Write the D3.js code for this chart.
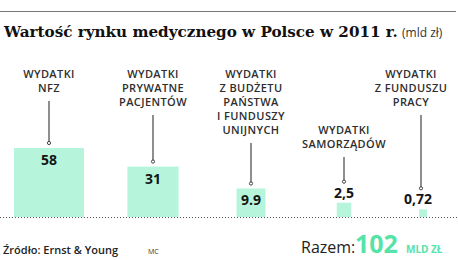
<!DOCTYPE html>
<html>
<head>
<meta charset="utf-8">
<script src="https://cdn.jsdelivr.net/npm/d3@7"></script>
<style>
  body { margin: 0; background: #fff; }
  svg { display: block; }
</style>
</head>
<body>
<svg id="svg"></svg>
<script>
// data
const categories = ["WYDATKI\nNFZ", "WYDATKI\nPRYWATNE\nPACJENTÓW", "WYDATKI\nZ BUDŻETU\nPAŃSTWA\nI FUNDUSZY\nUNIJNYCH", "WYDATKI\nSAMORZĄDÓW", "WYDATKI\nZ FUNDUSZU\nPRACY"]
const values = [58, 31, 9.9, 2.5, 0.72]
const valueLabels = ["58", "31", "9.9", "2,5", "0,72"]
const total = "102"

const width = 458, height = 260
const baseY = 217
const mint = "#b6f5dc"
const green = "#55e3a9"

const svg = d3.select("#svg")
    .attr("width", width)
    .attr("height", height)

// scales
const xCenter = d3.scaleOrdinal()
    .domain(categories)
    .range([49, 153, 251, 344, 423])

const labelCenter = d3.scaleOrdinal()
    .domain(categories)
    .range([49, 153, 251, 344, 411])

const labelTop = d3.scaleOrdinal()
    .domain(categories)
    .range([78, 78, 78, 134, 78])

// bars are sized by area
const wScale = d3.scaleSqrt().domain([0, 58]).range([0, 70])
const hScale = d3.scaleSqrt().domain([0, 58]).range([0, 69])

// header
svg.append("line")
    .attr("x1", 0).attr("x2", 456)
    .attr("y1", 11.5).attr("y2", 11.5)
    .attr("stroke", "#777")
    .attr("stroke-width", 1)

const title = svg.append("text")
    .attr("x", 4).attr("y", 37)
    .style("font-family", "'DejaVu Serif', serif")
    .style("font-weight", "bold")
    .style("font-size", "16px")
    .attr("fill", "#111")
    .text("Wartość rynku medycznego w Polsce w 2011 r.")
const tw = title.node().getComputedTextLength()
title.style("font-size", (16 * 394 / tw) + "px")

svg.append("text")
    .attr("x", 402).attr("y", 37)
    .style("font-family", "'Open Sans', sans-serif")
    .style("font-size", "12px")
    .attr("fill", "#333")
    .text("(mld zł)")

// baseline
svg.append("line")
    .attr("x1", 0).attr("x2", width)
    .attr("y1", baseY + 0.5).attr("y2", baseY + 0.5)
    .attr("stroke", "#555")
    .attr("stroke-width", 1)
    .attr("stroke-dasharray", "1,2")

const items = categories.map((c, i) => ({ c, v: values[i], label: valueLabels[i] }))

// bars
svg.selectAll("rect.bar")
    .data(items)
    .join("rect")
    .attr("class", "bar")
    .attr("x", d => xCenter(d.c) - wScale(d.v) / 2)
    .attr("y", d => baseY - hScale(d.v))
    .attr("width", d => wScale(d.v))
    .attr("height", d => hScale(d.v))
    .attr("fill", mint)

// category labels, leader lines, values
items.forEach(d => {
    const lines = d.c.split("\n")
    const t = svg.append("text")
        .attr("text-anchor", "middle")
        .style("font-family", "'Open Sans', sans-serif")
        .style("font-weight", "600")
        .style("font-size", "11px")
        .style("letter-spacing", "0.4px")
        .attr("fill", "#2e2e2e")
    lines.forEach((l, j) => {
        t.append("tspan")
            .attr("x", labelCenter(d.c))
            .attr("y", labelTop(d.c) + j * 14)
            .text(l)
    })
    const inside = hScale(d.v) > 25
    const top = baseY - hScale(d.v)
    const valY = inside ? top + 17 : top - 5
    const lineEnd = inside ? top - 5 : valY - 16
    const lineStart = labelTop(d.c) + (lines.length - 1) * 14 + 9
    const lx = xCenter(d.c) - (d.v < 1 ? 2 : 0)

    svg.append("line")
        .attr("x1", lx).attr("x2", lx)
        .attr("y1", lineStart).attr("y2", lineEnd)
        .attr("stroke", "#444")
        .attr("stroke-width", 1.2)
    svg.append("circle")
        .attr("cx", lx).attr("cy", lineEnd)
        .attr("r", 1.6)
        .attr("fill", "#fff")
        .attr("stroke", "#444")
        .attr("stroke-width", 1)

    svg.append("text")
        .attr("x", xCenter(d.c) - (d.v < 1 ? 5 : 0))
        .attr("y", valY)
        .attr("text-anchor", "middle")
        .style("font-family", "'Open Sans', sans-serif")
        .style("font-weight", "bold")
        .style("font-size", "14px")
        .attr("fill", "#151515")
        .text(d.label)
})

// footer
svg.append("text")
    .attr("x", 3).attr("y", 254)
    .style("font-family", "'Open Sans', sans-serif")
    .style("font-weight", "600")
    .style("font-size", "11px")
    .attr("fill", "#222")
    .text("Źródło: Ernst & Young")

svg.append("text")
    .attr("x", 148).attr("y", 254)
    .style("font-family", "'Open Sans', sans-serif")
    .style("font-size", "7px")
    .attr("fill", "#333")
    .text("MC")

svg.append("text")
    .attr("x", 301).attr("y", 253)
    .style("font-family", "'Open Sans', sans-serif")
    .style("font-size", "16px")
    .attr("fill", "#222")
    .text("Razem:")

svg.append("text")
    .attr("x", 355).attr("y", 253)
    .style("font-family", "'Open Sans', sans-serif")
    .style("font-weight", "bold")
    .style("font-size", "25px")
    .attr("fill", green)
    .text(total)

svg.append("text")
    .attr("x", 406).attr("y", 253)
    .style("font-family", "'Open Sans', sans-serif")
    .style("font-weight", "bold")
    .style("font-size", "10px")
    .attr("fill", green)
    .text("MLD ZŁ")
</script>
</body>
</html>
